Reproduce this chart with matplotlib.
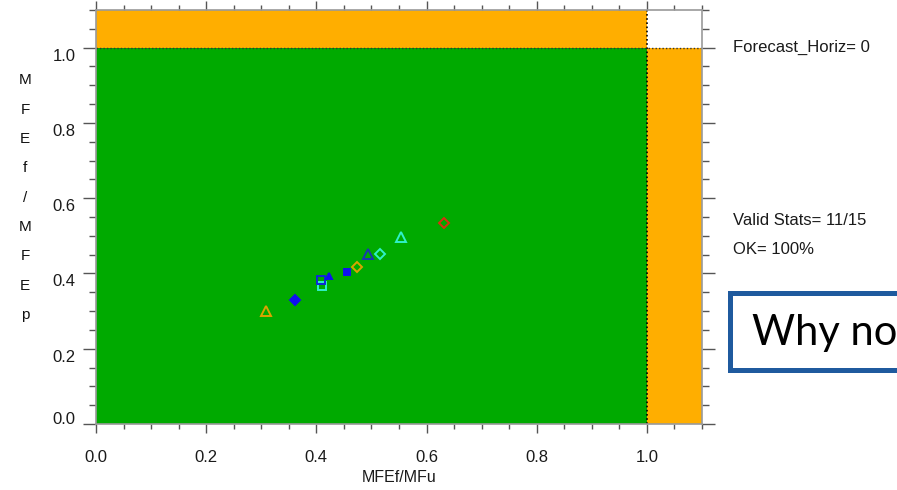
import matplotlib
matplotlib.use("Agg")
import matplotlib.pyplot as plt
import matplotlib.transforms as mtransforms
from matplotlib.patches import Rectangle
from matplotlib.ticker import MultipleLocator

plt.rcParams['font.family'] = ['Liberation Sans', 'DejaVu Sans']

# data
x_vals = [0.309, 0.361, 0.410, 0.408, 0.423, 0.456, 0.473, 0.493, 0.515, 0.553, 0.632]
y_vals = [0.300, 0.330, 0.367, 0.382, 0.394, 0.405, 0.416, 0.451, 0.453, 0.497, 0.533]
markers = ['^', 'D', 's', 's', '^', 's', 'D', '^', 'D', '^', 'D']
colors = ['#D9A400', '#1010F0', '#30F0C8', '#1028D8', '#1010F0', '#1010F0',
          '#D9A400', '#1838B0', '#30F0C8', '#30F0C8', '#D83010']
filled = [False, True, False, False, True, True, False, False, False, False, False]

x_label = "MFEf/MFu"
y_label = "MFEf/MFEp"
x_ticks = [0.0, 0.2, 0.4, 0.6, 0.8, 1.0]
y_ticks = [0.0, 0.2, 0.4, 0.6, 0.8, 1.0]
info_top = "Forecast_Horiz= 0"
info_stats = "Valid Stats= 11/15"
info_ok = "OK= 100%"
overlay = "Why no"

W, H = 897, 490
fig = plt.figure(figsize=(W / 100, H / 100), dpi=100)
ax = fig.add_axes([96 / W, 1 - 424 / H, (702 - 96) / W, (424 - 10) / H])
ax.set_xlim(0, 1.1)
ax.set_ylim(0, 1.1)

green = '#00AA00'
orange = '#FFAE00'
ax.add_patch(Rectangle((0, 0), 1.0, 1.0, facecolor=green, edgecolor='none', zorder=0))
ax.add_patch(Rectangle((0, 1.0), 1.0, 0.1, facecolor=orange, edgecolor='none', zorder=0))
ax.add_patch(Rectangle((1.0, 0), 0.1, 1.0, facecolor=orange, edgecolor='none', zorder=0))
ax.axvline(1.0, color='black', linestyle=(0, (1, 1.5)), linewidth=1.2, zorder=1)
ax.axhline(1.0, color='#333333', linestyle=(0, (1, 1.5)), linewidth=1.0, zorder=1)

sizes = {'^': 7.0, 'D': 5.6, 's': 5.2}
small = {'^': 4.8, 'D': 5.2, 's': 4.6}
for xv, yv, m, c, f in zip(x_vals, y_vals, markers, colors, filled):
    ms = small[m] if f else sizes[m]
    ax.plot([xv], [yv], marker=m, linestyle='none', markersize=ms,
            markerfacecolor=c if f else 'none', markeredgecolor=c,
            markeredgewidth=1.4, zorder=3)

ax.set_xticks(x_ticks)
ax.set_yticks(y_ticks)
ax.set_xticklabels([f"{t:.1f}" for t in x_ticks])
ax.set_yticklabels([f"{t:.1f}" for t in y_ticks])
ax.xaxis.set_minor_locator(MultipleLocator(0.05))
ax.yaxis.set_minor_locator(MultipleLocator(0.05))
tick_col = '#555555'
ax.tick_params(axis='y', which='major', direction='out', length=9.4, width=1.0, color=tick_col,
               labelsize=12, pad=5.5, right=True, labelcolor='#1a1a1a')
ax.tick_params(axis='y', which='minor', direction='out', length=5, width=1.0, color=tick_col,
               right=True)
ax.tick_params(axis='x', which='major', direction='out', length=6.5, width=1.0, color=tick_col,
               labelsize=12, pad=12, top=True, labelcolor='#1a1a1a')
ax.tick_params(axis='x', which='minor', direction='out', length=3.5, width=1.0, color=tick_col,
               top=True)
for s in ax.spines.values():
    s.set_color('#9a9a9a')
    s.set_linewidth(1.2)

# y tick labels hang below their ticks, the lowest sits above
for i, lab in enumerate(ax.get_yticklabels()):
    lab.set_va('bottom' if i == 0 else 'top')
    dy = -3 if i == 0 else -1
    lab.set_transform(lab.get_transform() +
                      mtransforms.ScaledTranslation(0, dy / 100, fig.dpi_scale_trans))

ax.set_xlabel(x_label, fontsize=11.5, color='#1a1a1a', labelpad=4)

# vertical stacked y label
y0 = 80.5
for i, ch in enumerate(y_label):
    fig.text(25 / W, 1 - (y0 + i * 29.3) / H, ch, fontsize=11, color='#111111',
             ha='center', va='center')

fig.text(733 / W, 1 - 47 / H, info_top, fontsize=12, color='#1a1a1a', va='center', ha='left')
fig.text(733 / W, 1 - 220 / H, info_stats, fontsize=12, color='#1a1a1a', va='center', ha='left')
fig.text(733 / W, 1 - 249 / H, info_ok, fontsize=12, color='#1a1a1a', va='center', ha='left')

# overlay box
fig.patches.append(Rectangle((730 / W, 1 - 370 / H), (910 - 730) / W, (370 - 293.5) / H,
                             transform=fig.transFigure, facecolor='white',
                             edgecolor='#1F5A9E', linewidth=3.6, zorder=5))
fig.text(752 / W, 1 - 345 / H, overlay, fontsize=30, color='black', va='baseline', ha='left',
         family=['Lato', 'DejaVu Sans'], zorder=6)

fig.savefig('out.png', dpi=100)
